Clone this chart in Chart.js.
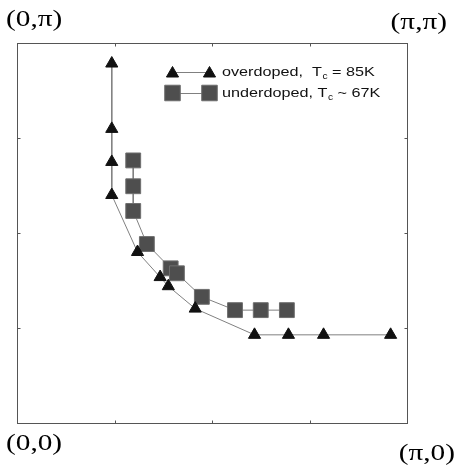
<!DOCTYPE html>
<html><head><meta charset="utf-8">
<script src="https://cdn.jsdelivr.net/npm/chart.js@4.4.0/dist/chart.umd.min.js"></script>
<style>html,body{margin:0;padding:0;background:#fff;overflow:hidden;}</style>
</head><body>
<canvas id="c" width="456" height="472"></canvas>
<script>
// Data in units of pi (kx/pi, ky/pi)
const overX = [0.243, 0.243, 0.243, 0.243, 0.309, 0.367, 0.388, 0.457, 0.609, 0.696, 0.786, 0.958];
const overY = [0.946, 0.774, 0.687, 0.600, 0.450, 0.384, 0.360, 0.301, 0.232, 0.232, 0.232, 0.232];
const underX = [0.298, 0.298, 0.298, 0.333, 0.394, 0.410, 0.474, 0.559, 0.625, 0.692];
const underY = [0.691, 0.623, 0.558, 0.471, 0.407, 0.394, 0.332, 0.297, 0.297, 0.297];
const tickValues = [0.25, 0.5, 0.75];
const cornerLabels = ['(0,\u03c0)', '(\u03c0,\u03c0)', '(0,0)', '(\u03c0,0)'];
const legendMain = ['overdoped,  T', 'underdoped, T'];
const legendSub = ['c', 'c'];
const legendTail = [' = 85K', ' ~ 67K'];

const toPts = (xs, ys) => xs.map((x, i) => ({x: x, y: ys[i]}));

const TRI_FILL = '#111111', SQ_FILL = '#4e4e4e', SQ_EDGE = '#6e6e6e', LINE = '#808080';

// draw horizontally stretched text; returns advanced width
function stretchText(ctx, txt, x, y, sx, align) {
  const w = ctx.measureText(txt).width * sx;
  const x0 = align === 'right' ? x - w : x;
  ctx.save();
  ctx.translate(x0, y);
  ctx.scale(sx, 1);
  ctx.textAlign = 'left';
  ctx.fillText(txt, 0, 0);
  ctx.restore();
  return w;
}

const decor = {
  id: 'decor',
  beforeDatasetsDraw(chart) {
    const {ctx, chartArea: a, scales} = chart;
    ctx.save();
    ctx.strokeStyle = '#555';
    ctx.lineWidth = 1;
    const L = Math.round(a.left) + 0.5, R = Math.round(a.right) + 0.5;
    const T = Math.round(a.top) + 0.5, B = Math.round(a.bottom) + 0.5;
    ctx.strokeRect(L, T, R - L, B - T);
    ctx.beginPath();
    tickValues.forEach(v => {
      const px = Math.round(scales.x.getPixelForValue(v)) + 0.5;
      ctx.moveTo(px, B); ctx.lineTo(px, B - 3);
      ctx.moveTo(px, T); ctx.lineTo(px, T + 3);
      const py = Math.round(scales.y.getPixelForValue(v)) + 0.5;
      ctx.moveTo(L, py); ctx.lineTo(L + 3, py);
      ctx.moveTo(R, py); ctx.lineTo(R - 3, py);
    });
    ctx.stroke();
    ctx.restore();
  },
  afterDraw(chart) {
    const {ctx} = chart;
    ctx.save();
    // corner labels
    ctx.fillStyle = '#000';
    ctx.font = '24px "Liberation Serif", "Times New Roman", serif';
    ctx.textBaseline = 'middle';
    const csx = 1.22;
    stretchText(ctx, cornerLabels[0], 6, 20, csx, 'left');
    stretchText(ctx, cornerLabels[2], 6, 444, csx, 'left');
    stretchText(ctx, cornerLabels[1], 447, 22.5, csx, 'right');
    stretchText(ctx, cornerLabels[3], 455, 453.5, csx, 'right');
    // legend
    const rows = [
      {y: 72, style: 'triangle', r: 7, fill: TRI_FILL, edge: TRI_FILL},
      {y: 93, style: 'rect', r: 11, fill: SQ_FILL, edge: SQ_EDGE}
    ];
    const x1 = 172.5, x2 = 209.5, tx = 222;
    const lsx = 1.2;
    rows.forEach((row, i) => {
      ctx.strokeStyle = LINE; ctx.lineWidth = 1;
      ctx.beginPath(); ctx.moveTo(x1, row.y + 0.5); ctx.lineTo(x2, row.y + 0.5); ctx.stroke();
      [x1, x2].forEach(px => {
        ctx.fillStyle = row.fill; ctx.strokeStyle = row.edge; ctx.lineWidth = 1;
        Chart.helpers.drawPoint(ctx, {pointStyle: row.style, radius: row.r, rotation: 0, borderWidth: 1},
          px, row.style === 'triangle' ? row.y + 1.5 : row.y);
      });
      ctx.fillStyle = '#111';
      ctx.textBaseline = 'middle';
      ctx.font = '13.5px "Liberation Sans", Arial, sans-serif';
      let x = tx;
      x += stretchText(ctx, legendMain[i], x, row.y, lsx, 'left');
      ctx.font = '8.5px "Liberation Sans", Arial, sans-serif';
      x += stretchText(ctx, legendSub[i], x + 0.5, row.y + 4.5, lsx, 'left') + 0.5;
      ctx.font = '13.5px "Liberation Sans", Arial, sans-serif';
      stretchText(ctx, legendTail[i], x, row.y, lsx, 'left');
    });
    ctx.restore();
  }
};

new Chart(document.getElementById('c'), {
  type: 'scatter',
  data: {
    datasets: [
      {
        label: 'overdoped, Tc = 85K',
        data: toPts(overX, overY),
        showLine: true,
        borderColor: LINE,
        borderWidth: 1,
        pointStyle: 'triangle',
        pointRadius: 7,
        pointHoverRadius: 7,
        pointBackgroundColor: TRI_FILL,
        pointBorderColor: TRI_FILL,
        pointBorderWidth: 1,
        tension: 0,
        clip: false
      },
      {
        label: 'underdoped, Tc ~ 67K',
        data: toPts(underX, underY),
        showLine: true,
        borderColor: LINE,
        borderWidth: 1,
        pointStyle: 'rect',
        pointRadius: 10.5,
        pointHoverRadius: 10.5,
        pointBackgroundColor: SQ_FILL,
        pointBorderColor: SQ_EDGE,
        pointBorderWidth: 1,
        tension: 0,
        clip: false
      }
    ]
  },
  options: {
    responsive: false,
    animation: false,
    events: [],
    layout: {padding: {left: 17, top: 43, right: 49, bottom: 49}},
    plugins: {legend: {display: false}, tooltip: {enabled: false}, title: {display: false}},
    scales: {
      x: {type: 'linear', min: 0, max: 1, display: false},
      y: {type: 'linear', min: 0, max: 1, display: false}
    }
  },
  plugins: [decor]
});
</script>
</body></html>
